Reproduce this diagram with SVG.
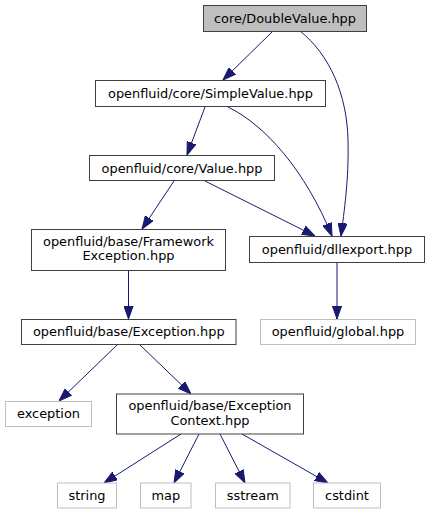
<svg xmlns="http://www.w3.org/2000/svg" width="429" height="515" viewBox="0 0 429 515">
<style>
.n rect{fill:#ffffff;stroke:#404040;stroke-width:1}
.root rect{fill:#bfbfbf;stroke:#404040}
.ext rect{fill:#ffffff;stroke:#bfbfbf}
text{font-family:"DejaVu Sans","Liberation Sans",sans-serif;font-size:12.9px;fill:#000000;text-anchor:middle}
.e path{fill:none;stroke:#191970;stroke-width:1}
</style>
<defs>
<marker id="ah" markerUnits="userSpaceOnUse" viewBox="0 0 13 10" markerWidth="13" markerHeight="10" refX="13" refY="5" orient="auto">
<path d="M0,0.4 L13,5 L0,9.6 z" fill="#191970" stroke="#191970" stroke-width="1"/>
</marker>
</defs>
<rect width="429" height="515" fill="#ffffff"/>
<g id="edges" class="e">
<path d="M273,31 L223,80" marker-end="url(#ah)"/>
<path d="M300,31 C330,55 347,95 348,140 C349,180 344,212 341,236" marker-end="url(#ah)"/>
<path d="M205,107 L187,155" marker-end="url(#ah)"/>
<path d="M228,107 C265,125 305,170 332,236" marker-end="url(#ah)"/>
<path d="M174,181 L142,229" marker-end="url(#ah)"/>
<path d="M205,181 L315,236" marker-end="url(#ah)"/>
<path d="M128.5,270 L128.5,319" marker-end="url(#ah)"/>
<path d="M337,263 L337,319" marker-end="url(#ah)"/>
<path d="M117,345 L59,401" marker-end="url(#ah)"/>
<path d="M140,345 L191,394" marker-end="url(#ah)"/>
<path d="M181,434 L104,483" marker-end="url(#ah)"/>
<path d="M199,434 L174,483" marker-end="url(#ah)"/>
<path d="M220,434 L245,483" marker-end="url(#ah)"/>
<path d="M242,434 L328,483" marker-end="url(#ah)"/>
</g>
<g id="node-doublevalue" class="n root"><rect x="203.5" y="5.5" width="163" height="26"/><text x="285" y="23">core/DoubleValue.hpp</text></g>
<g id="node-simplevalue" class="n"><rect x="95.5" y="80.5" width="230" height="26"/><text x="210.5" y="98">openfluid/core/SimpleValue.hpp</text></g>
<g id="node-value" class="n"><rect x="89.5" y="155.5" width="185" height="25"/><text x="182" y="172.5">openfluid/core/Value.hpp</text></g>
<g id="node-frameworkexception" class="n"><rect x="31.5" y="229.5" width="194" height="41"/><text x="128.5" y="245.5">openfluid/base/Framework</text><text x="128.5" y="259.5">Exception.hpp</text></g>
<g id="node-dllexport" class="n"><rect x="249.5" y="236.5" width="175" height="26"/><text x="337" y="254">openfluid/dllexport.hpp</text></g>
<g id="node-global" class="n ext"><rect x="260.5" y="319.5" width="155" height="25"/><text x="338" y="336">openfluid/global.hpp</text></g>
<g id="node-exception-hpp" class="n"><rect x="21.5" y="319.5" width="214.5" height="25"/><text x="128.75" y="336">openfluid/base/Exception.hpp</text></g>
<g id="node-exception" class="n ext"><rect x="5.5" y="401.5" width="86" height="25"/><text x="48.5" y="418">exception</text></g>
<g id="node-exceptioncontext" class="n"><rect x="116.5" y="394" width="187" height="40"/><text x="210" y="410">openfluid/base/Exception</text><text x="210" y="424.5">Context.hpp</text></g>
<g id="node-string" class="n ext"><rect x="57.5" y="483" width="59" height="25"/><text x="87" y="499.5">string</text></g>
<g id="node-map" class="n ext"><rect x="140.5" y="483" width="50.5" height="25"/><text x="165.75" y="499.5">map</text></g>
<g id="node-sstream" class="n ext"><rect x="215.5" y="483" width="74.5" height="25"/><text x="252.75" y="499.5">sstream</text></g>
<g id="node-cstdint" class="n ext"><rect x="313.5" y="483" width="67" height="25"/><text x="347" y="499.5">cstdint</text></g>
</svg>
